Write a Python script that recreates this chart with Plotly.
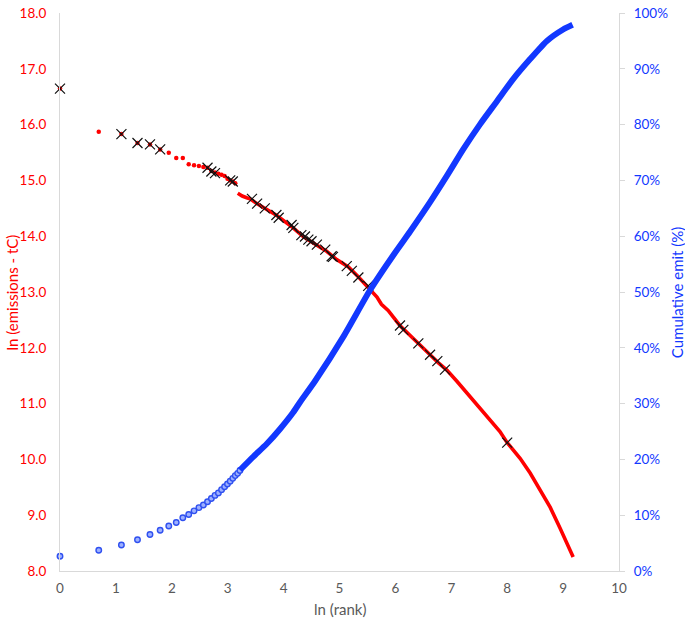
import numpy as np
import plotly.graph_objects as go

# ---- data ----
# early individually visible red points (rank, ln emissions)
red_early_rank = list(range(1, 24))
red_early_val = [16.645, 15.87, 15.83, 15.67, 15.645, 15.556, 15.497, 15.40, 15.40, 15.29,
                 15.27, 15.26, 15.24, 15.226, 15.17, 15.14, 15.12, 15.10, 15.08, 15.03,
                 15.00, 14.98, 14.95]
# dense red part (ln rank, ln emissions)
red_dense_lnrank = [3.18, 3.26, 3.34, 3.40, 3.52, 3.70, 3.88, 4.17, 4.35, 4.53, 4.77, 4.95,
                    5.16, 5.34, 5.52, 5.67, 5.75, 5.87, 6.08, 6.23, 6.41, 6.62, 6.77, 6.92,
                    7.10, 7.275, 7.48, 7.63, 7.87, 8.00, 8.23, 8.41, 8.59, 8.77, 8.94, 9.09, 9.18]
red_dense_val = [14.77, 14.72, 14.69, 14.67, 14.585, 14.48, 14.37, 14.15, 13.995, 13.88, 13.73, 13.58,
                 13.45, 13.27, 13.07, 12.91, 12.78, 12.67, 12.40, 12.26, 12.08, 11.875, 11.73, 11.60,
                 11.40, 11.20, 10.96, 10.79, 10.50, 10.30, 10.02, 9.755, 9.46, 9.14, 8.78, 8.46, 8.25]
# marked (black cross) entries: rank, ln emissions
marked_rank = [1, 3, 4, 5, 6, 14, 15, 16, 21, 22, 31, 34, 39, 48, 50, 63, 65, 75, 80, 85, 90,
               99, 115, 129, 132, 169, 185, 208, 248, 438, 465, 608, 750, 854, 980, 2980]
marked_val = [16.645, 15.83, 15.67, 15.645, 15.556, 15.226, 15.16, 15.13, 15.00, 14.98, 14.67,
              14.585, 14.50, 14.38, 14.33, 14.20, 14.15, 14.02, 13.995, 13.94, 13.91, 13.85,
              13.76, 13.64, 13.63, 13.465, 13.38, 13.26, 13.11, 12.40, 12.32, 12.08, 11.875,
              11.76, 11.61, 10.30]
# cumulative share, early individually visible points (rank, fraction)
cum_early_rank = list(range(1, 26))
cum_early_val = [0.0265, 0.0371, 0.0465, 0.056, 0.0654, 0.073, 0.0807, 0.087, 0.0954, 0.1013,
                 0.1078, 0.1136, 0.1184, 0.1242, 0.130, 0.1355, 0.140, 0.1458, 0.151, 0.156,
                 0.161, 0.166, 0.171, 0.175, 0.180]
# cumulative share, dense part (ln rank, fraction)
cum_dense_lnrank = [3.22, 3.46, 3.70, 3.94, 4.17, 4.29, 4.56, 5.07, 5.55, 5.99, 6.26, 6.62,
                    6.92, 7.215, 7.51, 7.81, 8.11, 8.41, 8.71, 9.00, 9.17]
cum_dense_val = [0.181, 0.205, 0.228, 0.255, 0.284, 0.302, 0.340, 0.420, 0.504, 0.570, 0.608,
                 0.661, 0.708, 0.756, 0.800, 0.841, 0.882, 0.9175, 0.950, 0.9705, 0.979]

x_ticks = list(range(0, 11))
y_ticks = [8, 9, 10, 11, 12, 13, 14, 15, 16, 17, 18]
y2_ticks = [i / 10 for i in range(0, 11)]

RED = "#FF0000"
BLUE = "#1238FF"
GRAY = "#595959"
LINE = "#D9D9D9"
FONT = "Lato"

fig = go.Figure()

fig.add_trace(go.Scatter(x=np.log(red_early_rank), y=red_early_val, mode="markers",
                         marker=dict(color=RED, size=4.5), yaxis="y", showlegend=False,
                         cliponaxis=False))
fig.add_trace(go.Scatter(x=red_dense_lnrank, y=red_dense_val, mode="lines",
                         line=dict(color=RED, width=3.6), yaxis="y", showlegend=False))
fig.add_trace(go.Scatter(x=np.log(marked_rank), y=marked_val, mode="markers",
                         marker=dict(symbol="x-thin-open", size=10, color="#111111",
                                     line=dict(color="#111111", width=1.2)),
                         yaxis="y", showlegend=False, cliponaxis=False))
fig.add_trace(go.Scatter(x=np.log(cum_early_rank), y=cum_early_val, mode="markers",
                         marker=dict(symbol="circle", size=5.5, color="#9DB0FF",
                                     line=dict(color="#2F50F0", width=1.4)),
                         yaxis="y2", showlegend=False, cliponaxis=False))
fig.add_trace(go.Scatter(x=cum_dense_lnrank, y=cum_dense_val, mode="lines",
                         line=dict(color=BLUE, width=6, shape="spline", smoothing=0.6),
                         yaxis="y2", showlegend=False))

fig.update_layout(
    width=685, height=620,
    margin=dict(l=60, r=66, t=5, b=49),
    plot_bgcolor="white", paper_bgcolor="white",
    font=dict(family=FONT, size=13, color=GRAY),
    xaxis=dict(range=[0, 10], tickvals=x_ticks, showgrid=False, zeroline=False,
               showline=True, linecolor=LINE, linewidth=1, ticks="",
               tickfont=dict(color=GRAY, size=13.5, family=FONT), ticklabelstandoff=5,
               ticklabeloverflow="allow"),
    yaxis=dict(range=[8, 18], tickvals=y_ticks, tickformat=".1f", showgrid=False,
               zeroline=False, showline=True, linecolor=LINE, linewidth=1, ticks="",
               tickfont=dict(color=RED, size=13.5, family=FONT), ticklabelstandoff=10,
               ticklabeloverflow="allow"),
    yaxis2=dict(range=[0, 1], tickvals=y2_ticks, tickformat=".0%", overlaying="y",
                side="right", showgrid=False, zeroline=False, showline=True,
                linecolor=LINE, linewidth=1, ticks="outside", ticklen=5, tickcolor=LINE,
                tickfont=dict(color=BLUE, size=13.5, family=FONT), ticklabelstandoff=6,
                ticklabeloverflow="allow"),
    annotations=[
        dict(text="ln (emissions - tC)", xref="paper", yref="paper", x=-0.085, y=0.5,
             xanchor="center", yanchor="middle", textangle=-90, showarrow=False,
             font=dict(color=RED, size=15, family=FONT)),
        dict(text="Cumulative emit (%)", xref="paper", yref="paper", x=1.104, y=0.5,
             xanchor="center", yanchor="middle", textangle=-90, showarrow=False,
             font=dict(color=BLUE, size=15, family=FONT)),
        dict(text="ln (rank)", xref="paper", yref="paper", x=0.5, y=-0.068,
             xanchor="center", yanchor="middle", showarrow=False,
             font=dict(color=GRAY, size=15, family=FONT)),
    ],
)

fig.write_html("out.html", config={"displayModeBar": False},
               post_script="document.body.style.margin='0';")
